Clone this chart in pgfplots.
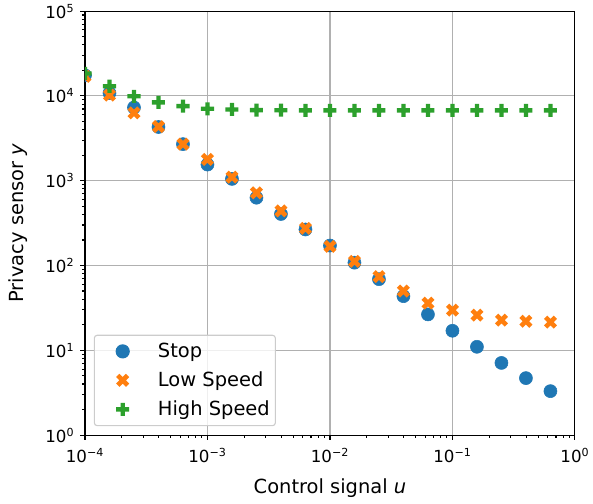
\documentclass[border=0pt]{standalone}
\usepackage{fontspec}
\setmainfont{DejaVu Sans}
\usepackage{pgfplots}
\pgfplotsset{compat=1.18}
\definecolor{tabblue}{HTML}{1F77B4}
\definecolor{taborange}{HTML}{FF7F0E}
\definecolor{tabgreen}{HTML}{2CA02C}
\definecolor{gridgray}{HTML}{B0B0B0}
\pgfdeclareplotmark{Xfill}{%
  \pgfpathmoveto{\pgfqpoint{-0.5\pgfplotmarksize}{-\pgfplotmarksize}}%
  \pgfpathlineto{\pgfqpoint{0pt}{-0.5\pgfplotmarksize}}%
  \pgfpathlineto{\pgfqpoint{0.5\pgfplotmarksize}{-\pgfplotmarksize}}%
  \pgfpathlineto{\pgfqpoint{\pgfplotmarksize}{-0.5\pgfplotmarksize}}%
  \pgfpathlineto{\pgfqpoint{0.5\pgfplotmarksize}{0pt}}%
  \pgfpathlineto{\pgfqpoint{\pgfplotmarksize}{0.5\pgfplotmarksize}}%
  \pgfpathlineto{\pgfqpoint{0.5\pgfplotmarksize}{\pgfplotmarksize}}%
  \pgfpathlineto{\pgfqpoint{0pt}{0.5\pgfplotmarksize}}%
  \pgfpathlineto{\pgfqpoint{-0.5\pgfplotmarksize}{\pgfplotmarksize}}%
  \pgfpathlineto{\pgfqpoint{-\pgfplotmarksize}{0.5\pgfplotmarksize}}%
  \pgfpathlineto{\pgfqpoint{-0.5\pgfplotmarksize}{0pt}}%
  \pgfpathlineto{\pgfqpoint{-\pgfplotmarksize}{-0.5\pgfplotmarksize}}%
  \pgfpathclose\pgfusepathqfill}
\pgfdeclareplotmark{Pfill}{%
  \pgfpathmoveto{\pgfqpoint{-0.3333\pgfplotmarksize}{-\pgfplotmarksize}}%
  \pgfpathlineto{\pgfqpoint{0.3333\pgfplotmarksize}{-\pgfplotmarksize}}%
  \pgfpathlineto{\pgfqpoint{0.3333\pgfplotmarksize}{-0.3333\pgfplotmarksize}}%
  \pgfpathlineto{\pgfqpoint{\pgfplotmarksize}{-0.3333\pgfplotmarksize}}%
  \pgfpathlineto{\pgfqpoint{\pgfplotmarksize}{0.3333\pgfplotmarksize}}%
  \pgfpathlineto{\pgfqpoint{0.3333\pgfplotmarksize}{0.3333\pgfplotmarksize}}%
  \pgfpathlineto{\pgfqpoint{0.3333\pgfplotmarksize}{\pgfplotmarksize}}%
  \pgfpathlineto{\pgfqpoint{-0.3333\pgfplotmarksize}{\pgfplotmarksize}}%
  \pgfpathlineto{\pgfqpoint{-0.3333\pgfplotmarksize}{0.3333\pgfplotmarksize}}%
  \pgfpathlineto{\pgfqpoint{-\pgfplotmarksize}{0.3333\pgfplotmarksize}}%
  \pgfpathlineto{\pgfqpoint{-\pgfplotmarksize}{-0.3333\pgfplotmarksize}}%
  \pgfpathlineto{\pgfqpoint{-0.3333\pgfplotmarksize}{-0.3333\pgfplotmarksize}}%
  \pgfpathclose\pgfusepathqfill}
\pgfplotstableread{
x stop low high
1e-4 17500 17000 18400
1.585e-4 10800 10200 13000
2.512e-4 7300 6300 9900
3.981e-4 4300 4350 8380
6.310e-4 2700 2700 7580
1e-3 1550 1780 7050
1.585e-3 1050 1100 6920
2.512e-3 630 720 6800
3.981e-3 405 440 6780
6.310e-3 266 274 6760
1e-2 172 168 6750
1.585e-2 108 112 6750
2.512e-2 69 74 6750
3.981e-2 43.5 50 6750
6.310e-2 26.5 36 6750
0.1 17 29.8 6750
0.1585 11 26 6750
0.2512 7.1 22.7 6750
0.3981 4.7 22 6750
0.6310 3.3 21.5 6750
}\datatable
\begin{document}
\fontsize{12}{14.4}\selectfont
\begin{tikzpicture}
\begin{axis}[
  scale only axis,
  width=352.8pt, height=305.3pt,
  xmode=log, ymode=log,
  xmin=1e-4, xmax=1, ymin=1, ymax=1e5,
  font=\fontsize{12}{14.4}\selectfont,
  axis line style={line width=0.8pt},
  tick style={line width=0.8pt, black},
  major tick length=3.5pt, minor tick length=2pt,
  tick align=outside,
  xtick pos=bottom, ytick pos=left,
  grid=major,
  major grid style={gridgray, line width=0.8pt},
  xticklabel={\pgfmathtruncatemacro{\ee}{round(\tick/2.302585093)}\pgfmathtruncatemacro{\ea}{abs(\ee)}10\textsuperscript{\ifnum\ee<0 −\fi\ea}},
  yticklabel={\pgfmathtruncatemacro{\ee}{round(\tick/2.302585093)}\pgfmathtruncatemacro{\ea}{abs(\ee)}10\textsuperscript{\ifnum\ee<0 −\fi\ea}},
  xticklabel style={yshift=-2pt},
  xlabel={Control signal \textit{u}},
  ylabel={Privacy sensor \textit{y}},
  xlabel style={yshift=-3pt, font=\fontsize{14}{16.8}\selectfont},
  ylabel style={yshift=4.5pt, font=\fontsize{14}{16.8}\selectfont},
  clip marker paths=true,
  legend image code/.code={\path (0pt,0pt) (41pt,0pt); \draw[#1, fill opacity=1, draw opacity=1] plot coordinates {(18pt,0pt)};},
  legend style={at={(0.018,0.021)}, anchor=south west, draw=black!20, line width=0.8pt,
    rounded corners=2pt, fill=white, fill opacity=0.8, text opacity=1,
    inner xsep=2pt, inner ysep=3.5pt, row sep=4.5pt,
    font=\fontsize{14}{16.8}\selectfont},
  legend cell align=left,
]
\coordinate (ll) at (rel axis cs:0,0);
\coordinate (ur) at (rel axis cs:1,1);
\addplot[only marks, mark=*, mark size=4.7pt, tabblue, mark options={draw=none, fill=tabblue}] table[x=x, y=stop] {\datatable};
\addlegendentry{Stop}
\addplot[only marks, mark=Xfill, mark size=4.7pt, taborange, mark options={fill=taborange}] table[x=x, y=low] {\datatable};
\addlegendentry{Low Speed}
\addplot[only marks, mark=Pfill, mark size=4.7pt, tabgreen, mark options={fill=tabgreen}] table[x=x, y=high] {\datatable};
\addlegendentry{High Speed}
\end{axis}
\pgfresetboundingbox
\path[use as bounding box] ([xshift=-61.2pt,yshift=-49pt]ll) rectangle ([xshift=13pt,yshift=8pt]ur);
\end{tikzpicture}
\end{document}
